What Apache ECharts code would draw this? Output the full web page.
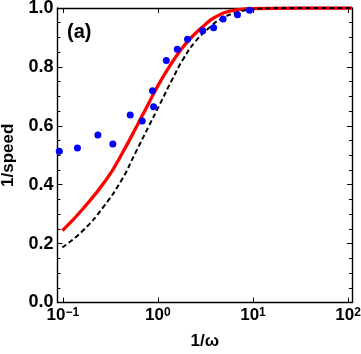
<!DOCTYPE html>
<html><head><meta charset="utf-8">
<script src="https://cdn.jsdelivr.net/npm/echarts@6/dist/echarts.min.js"></script>
<style>html,body{margin:0;padding:0;background:#fff}#c{width:361px;height:354px}</style>
</head><body><div id="c"></div>
<script>
// Red solid curve
const redX = [0.0991, 0.165, 0.291, 0.419, 0.603, 0.767, 1.016, 1.352, 1.795, 2.377, 3.155, 3.864, 5.794, 10, 30, 110];
const redY = [0.244, 0.320, 0.420, 0.505, 0.600, 0.665, 0.740, 0.806, 0.863, 0.908, 0.944, 0.966, 0.990, 0.998, 1.0, 1.0];
// Black dashed curve
const blackX = [0.0991, 0.165, 0.268, 0.419, 0.578, 0.798, 1.06, 1.408, 1.866, 2.477, 3.42, 4.55, 6.81, 10, 20, 110];
const blackY = [0.187, 0.246, 0.325, 0.418, 0.507, 0.597, 0.676, 0.756, 0.829, 0.886, 0.931, 0.962, 0.985, 0.996, 1.0, 1.0];
// Blue dots
const dotX = [0.092, 0.1426, 0.234, 0.336, 0.512, 0.685, 0.879, 0.901, 1.227, 1.60, 2.05, 2.96, 3.86, 4.85, 6.87, 9.19];
const dotY = [0.514, 0.525, 0.569, 0.538, 0.637, 0.616, 0.719, 0.665, 0.822, 0.860, 0.894, 0.923, 0.933, 0.963, 0.977, 0.992];

const zip = (a, b) => a.map((v, i) => [v, b[i]]);
const font = 'Liberation Sans, Arial, sans-serif';
const chart = echarts.init(document.getElementById('c'));

const axisCommon = {
  axisLine: { show: true, onZero: false, lineStyle: { color: '#000', width: 1.4 } },
  splitLine: { show: false }
};

chart.setOption({
  animation: false,
  backgroundColor: '#fff',
  grid: { left: 57.5, right: 9, top: 8, bottom: 51.5, containLabel: false, outerBoundsMode: 'none' },
  xAxis: [
    Object.assign({
      type: 'log', logBase: 10, min: 0.088, max: 110, position: 'bottom',
      axisTick: { show: true, inside: true, length: 5, lineStyle: { color: '#000', width: 1 } },
      axisLabel: {
        showMinLabel: false, showMaxLabel: false, margin: 4, color: '#000',
        formatter: v => {
          const e = Math.round(Math.log10(v));
          return '{b|10}{s|' + (e < 0 ? '\u2212' + (-e) : e) + '}';
        },
        rich: {
          b: { fontSize: 17, fontWeight: 'bold', fontFamily: font, color: '#000' },
          s: { fontSize: 12, fontWeight: 'bold', fontFamily: font, color: '#000', verticalAlign: 'top' }
        }
      },
      name: '1/\u03c9', nameLocation: 'middle', nameGap: 30,
      nameTextStyle: { fontSize: 17, fontWeight: 'bold', fontFamily: font, color: '#000' }
    }, axisCommon),
    Object.assign({
      type: 'log', logBase: 10, min: 0.088, max: 110, position: 'top',
      axisTick: { show: true, inside: true, length: 5, lineStyle: { color: '#000', width: 1 } },
      axisLabel: { show: false }
    }, axisCommon)
  ],
  yAxis: [
    Object.assign({
      type: 'value', min: 0, max: 1, interval: 0.2, position: 'left',
      axisTick: { show: true, inside: true, length: 5, lineStyle: { color: '#000', width: 1 } },
      minorTick: { show: true, splitNumber: 4, length: 3, lineStyle: { color: '#000', width: 1 } },
      axisLabel: {
        margin: 4, color: '#000', fontSize: 18, fontWeight: 'bold', fontFamily: font,
        formatter: v => v.toFixed(1)
      },
      name: '1/speed', nameLocation: 'middle', nameGap: 41,
      nameTextStyle: { fontSize: 17, fontWeight: 'bold', fontFamily: font, color: '#000' }
    }, axisCommon),
    Object.assign({
      type: 'value', min: 0, max: 1, interval: 0.2, position: 'right',
      axisTick: { show: true, inside: true, length: 5, lineStyle: { color: '#000', width: 1 } },
      minorTick: { show: true, splitNumber: 4, length: 3, lineStyle: { color: '#000', width: 1 } },
      axisLabel: { show: false }
    }, axisCommon)
  ],
  graphic: [{
    type: 'text', left: 67, top: 22,
    style: { text: '(a)', fontSize: 20, fontWeight: 'bold', fontFamily: font, fill: '#000' }
  }],
  series: [
    { type: 'line', data: zip(redX, redY), smooth: 0.5, symbol: 'none',
      lineStyle: { color: '#ff0000', width: 3.3 }, z: 2 },
    { type: 'line', data: zip(blackX, blackY), smooth: 0.5, symbol: 'none',
      lineStyle: { color: '#000', width: 2, type: [5, 3] }, z: 3 },
    { type: 'scatter', data: zip(dotX, dotY), symbol: 'circle', symbolSize: 7,
      itemStyle: { color: '#0000ff', opacity: 1 }, z: 4 }
  ]
});
</script>
</body></html>
